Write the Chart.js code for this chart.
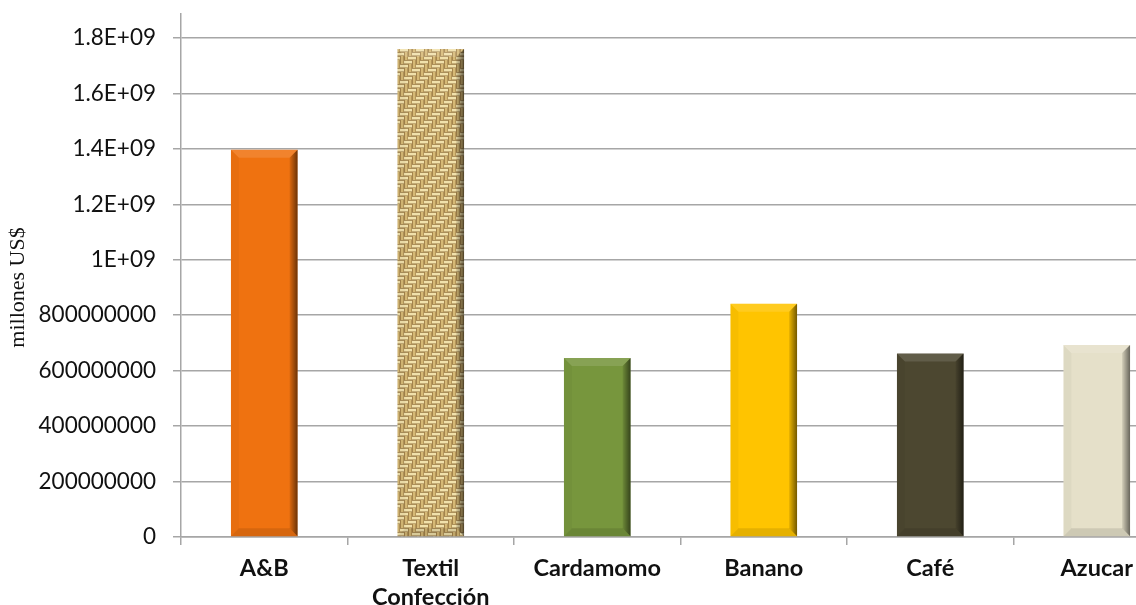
<!DOCTYPE html>
<html>
<head>
<meta charset="utf-8">
<script src="https://cdn.jsdelivr.net/npm/chart.js@4/dist/chart.umd.min.js"></script>
<style>
  html, body { margin: 0; padding: 0; background: #ffffff; overflow: hidden; }
  #wrap { width: 1180px; height: 605px; }
</style>
</head>
<body>
<div id="wrap"><canvas id="chart" width="1180" height="605"></canvas></div>
<script>
// Exportaciones por producto (US$)
const categories = ['A&B', ['Textil', 'Confección'], 'Cardamomo', 'Banano', 'Café', 'Azucar'];
const exportValues = [1.397e9, 1.76e9, 6.46e8, 8.41e8, 6.62e8, 6.93e8];
const yTickValues = [0, 2e8, 4e8, 6e8, 8e8, 1e9, 1.2e9, 1.4e9, 1.6e9, 1.8e9];
const yTickLabels = ['0', '200000000', '400000000', '600000000', '800000000',
                     '1E+09', '1.2E+09', '1.4E+09', '1.6E+09', '1.8E+09'];
const yAxisMax = 1.8865e9;
const yAxisTitle = 'millones US$';

// Woven burlap fill used for the textile bar
function burlapPattern(ctx) {
  const cell = 4, n = 4;
  const t = document.createElement('canvas');
  t.width = t.height = cell * n;
  const g = t.getContext('2d');
  g.fillStyle = '#93733f';
  g.fillRect(0, 0, t.width, t.height);
  for (let i = 0; i < n; i++) {
    for (let j = 0; j < n; j++) {
      const x = i * cell, y = j * cell;
      if ((i + j) % 4 < 2) {
        g.fillStyle = '#f1e1ab';
        g.fillRect(x, y + 0.75, cell, 2.75);
      } else {
        g.fillStyle = '#d6b976';
        g.fillRect(x + 0.75, y, 2.75, cell);
      }
    }
  }
  return ctx.createPattern(t, 'repeat');
}

const ctx = document.getElementById('chart').getContext('2d');
const barColors = ['#ef7210', burlapPattern(ctx), '#77963d', '#ffc400', '#4c4730', '#e5e0c9'];

// Soft bevel on each bar: light top edge, shaded right and bottom edges
const bevelPlugin = {
  id: 'bevel',
  afterDatasetsDraw(chart) {
    const c = chart.ctx;
    const poly = (pts, fill) => {
      c.beginPath();
      c.moveTo(pts[0][0], pts[0][1]);
      for (let k = 1; k < pts.length; k++) c.lineTo(pts[k][0], pts[k][1]);
      c.closePath();
      c.fillStyle = fill;
      c.fill();
    };
    chart.getDatasetMeta(0).data.forEach(bar => {
      const p = bar.getProps(['x', 'y', 'base', 'width'], true);
      const l = p.x - p.width / 2, r = p.x + p.width / 2, t = p.y, b = p.base;
      const s = Math.min(8, p.width / 4, (b - t) / 2);
      c.save();
      poly([[l, t], [r, t], [r - s, t + s], [l + s, t + s]], 'rgba(255,255,255,0.12)');
      poly([[l, t], [l + s, t + s], [l + s, b - s], [l, b]], 'rgba(0,0,0,0.03)');
      const gr = c.createLinearGradient(r - s, 0, r, 0);
      gr.addColorStop(0, 'rgba(0,0,0,0.08)');
      gr.addColorStop(1, 'rgba(0,0,0,0.55)');
      poly([[r, t], [r, b], [r - s, b - s], [r - s, t + s]], gr);
      poly([[l, b], [r, b], [r - s, b - s], [l + s, b - s]], 'rgba(0,0,0,0.10)');
      c.restore();
    });
  }
};

// Rotated serif title beside the value axis
const yTitlePlugin = {
  id: 'yTitle',
  afterDraw(chart) {
    const c = chart.ctx, a = chart.chartArea;
    c.save();
    c.translate(18, (a.top + a.bottom) / 2 + 12);
    c.rotate(-Math.PI / 2);
    c.font = '22px "Liberation Serif", "DejaVu Serif", serif';
    c.fillStyle = '#111111';
    c.textAlign = 'center';
    c.textBaseline = 'middle';
    c.fillText(yAxisTitle, 0, 0);
    c.restore();
  }
};

new Chart(ctx, {
  type: 'bar',
  data: {
    labels: categories,
    datasets: [{
      data: exportValues,
      backgroundColor: barColors,
      borderWidth: 0,
      categoryPercentage: 0.8,
      barPercentage: 0.5
    }]
  },
  options: {
    responsive: false,
    animation: false,
    devicePixelRatio: 1,
    layout: { padding: { top: 14, right: 0, bottom: 0, left: 0 } },
    plugins: { legend: { display: false }, tooltip: { enabled: false } },
    scales: {
      x: {
        offset: true,
        grid: { drawOnChartArea: false, drawTicks: true, tickLength: 8, offset: true, color: '#a6a6a6', lineWidth: 1.5 },
        border: { color: '#a6a6a6', width: 1.5 },
        ticks: {
          color: '#111111',
          padding: 9,
          maxRotation: 0,
          autoSkip: false,
          font: { family: 'Lato, "Open Sans", sans-serif', size: 23.5, weight: 'bold', lineHeight: 1.24 }
        },
        afterFit(scale) { scale.height = 68; }
      },
      y: {
        min: 0,
        max: yAxisMax,
        grid: { color: '#a6a6a6', lineWidth: 1.5, tickLength: 8 },
        border: { color: '#a6a6a6', width: 1.5 },
        ticks: {
          padding: 17,
          color: '#111111',
          font: { family: 'Lato, "Open Sans", sans-serif', size: 22.5 },
          callback: (v, i) => yTickLabels[i]
        },
        afterBuildTicks(scale) { scale.ticks = yTickValues.map(v => ({ value: v })); },
        afterFit(scale) { scale.width = 181; scale.paddingTop = 0; scale.paddingBottom = 0; }
      }
    }
  },
  plugins: [bevelPlugin, yTitlePlugin]
});
</script>
</body>
</html>
